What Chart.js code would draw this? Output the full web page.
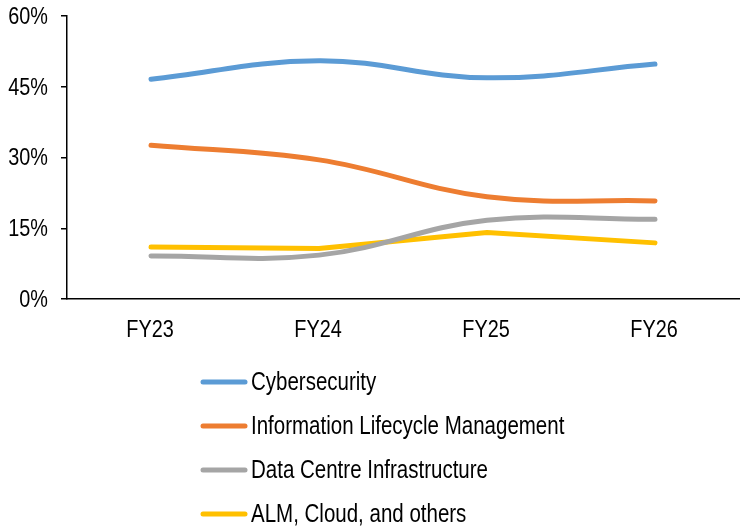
<!DOCTYPE html>
<html>
<head>
<meta charset="utf-8">
<style>
  html, body { margin: 0; padding: 0; background: #fff; }
  #wrap { width: 740px; height: 531px; }
</style>
<script src="https://cdn.jsdelivr.net/npm/chart.js@4"></script>
</head>
<body>
<div id="wrap"><canvas id="mix"></canvas></div>
<script>
// Revenue mix by segment (share of total)
const years = ['FY23', 'FY24', 'FY25', 'FY26'];
const cybersecurity = [46.6, 50.5, 46.9, 49.8];
const infoLifecycle = [32.6, 29.5, 21.7, 20.8];
const dataCentre = [9.1, 9.3, 16.7, 16.9];
const almCloud = [11.0, 10.7, 14.1, 11.9];
const yTicks = [0, 15, 30, 45, 60];

const FONT = '"Liberation Sans", Arial, sans-serif';
const NARROW = 0.81;   // no narrow face installed, so squeeze the regular one

function series(label, data, color, tension) {
    return {
        label: label,
        data: data,
        borderColor: color,
        backgroundColor: color,
        borderWidth: 5,
        borderCapStyle: 'round',
        borderJoinStyle: 'round',
        pointRadius: 0,
        tension: tension,
        fill: false
    };
}

function narrowText(ctx, text, x, y, align, squeeze) {
    ctx.save();
    ctx.translate(x, y);
    ctx.scale(squeeze || NARROW, 1);
    ctx.textAlign = align;
    ctx.fillText(text, 0, 0);
    ctx.restore();
}

// axis labels in the condensed face
const narrowTicks = {
    id: 'narrowTicks',
    afterDraw(chart) {
        const ctx = chart.ctx;
        const xs = chart.scales.x;
        const ys = chart.scales.y;
        ctx.save();
        ctx.fillStyle = '#000';
        ctx.textBaseline = 'middle';
        ctx.font = '24.5px ' + FONT;
        ys.ticks.forEach((t, i) => {
            narrowText(ctx, t.value + '%', ys.right - 19, ys.getPixelForTick(i) + 1, 'right');
        });
        xs.ticks.forEach((t, i) => {
            narrowText(ctx, xs.getLabelForValue(t.value), xs.getPixelForTick(i) - 1, xs.top + 31, 'center');
        });
        ctx.restore();
    }
};

// legend stacked in one column under the plot
const columnLegend = {
    id: 'columnLegend',
    afterDraw(chart) {
        const ctx = chart.ctx;
        ctx.save();
        ctx.font = '25px ' + FONT;
        ctx.textBaseline = 'middle';
        chart.data.datasets.forEach((ds, i) => {
            const y = 382 + i * 44;
            ctx.strokeStyle = ds.borderColor;
            ctx.lineWidth = 5;
            ctx.lineCap = 'round';
            ctx.beginPath();
            ctx.moveTo(203, y);
            ctx.lineTo(245, y);
            ctx.stroke();
            ctx.fillStyle = '#000';
            narrowText(ctx, ds.label, 251, y + 1, 'left', 0.82);
        });
        ctx.restore();
    }
};

new Chart(document.getElementById('mix'), {
    type: 'line',
    data: {
        labels: years,
        datasets: [
            series('Cybersecurity', cybersecurity, '#5B9BD5', 0.4),
            series('Information Lifecycle Management', infoLifecycle, '#ED7D31', 0.4),
            series('Data Centre Infrastructure', dataCentre, '#A5A5A5', 0.4),
            series('ALM, Cloud, and others', almCloud, '#FFC000', 0)
        ]
    },
    options: {
        responsive: true,
        maintainAspectRatio: false,
        animation: false,
        layout: { padding: { top: 16, right: 1, bottom: 192, left: 0 } },
        plugins: {
            legend: { display: false },
            tooltip: { enabled: false }
        },
        scales: {
            x: {
                offset: true,
                afterFit: s => { s.height = 40; },
                border: { color: '#000', width: 1.5 },
                grid: { display: true, drawOnChartArea: false, drawTicks: false },
                ticks: { display: false }
            },
            y: {
                min: 0,
                max: 60,
                afterFit: s => { s.width = 67; },
                afterBuildTicks: s => { s.ticks = yTicks.map(v => ({ value: v })); },
                border: { color: '#000', width: 1.5 },
                grid: { drawOnChartArea: false, drawTicks: true, tickLength: 6, color: '#000', lineWidth: 1.5 },
                ticks: { display: false }
            }
        }
    },
    plugins: [narrowTicks, columnLegend]
});
</script>
</body>
</html>
